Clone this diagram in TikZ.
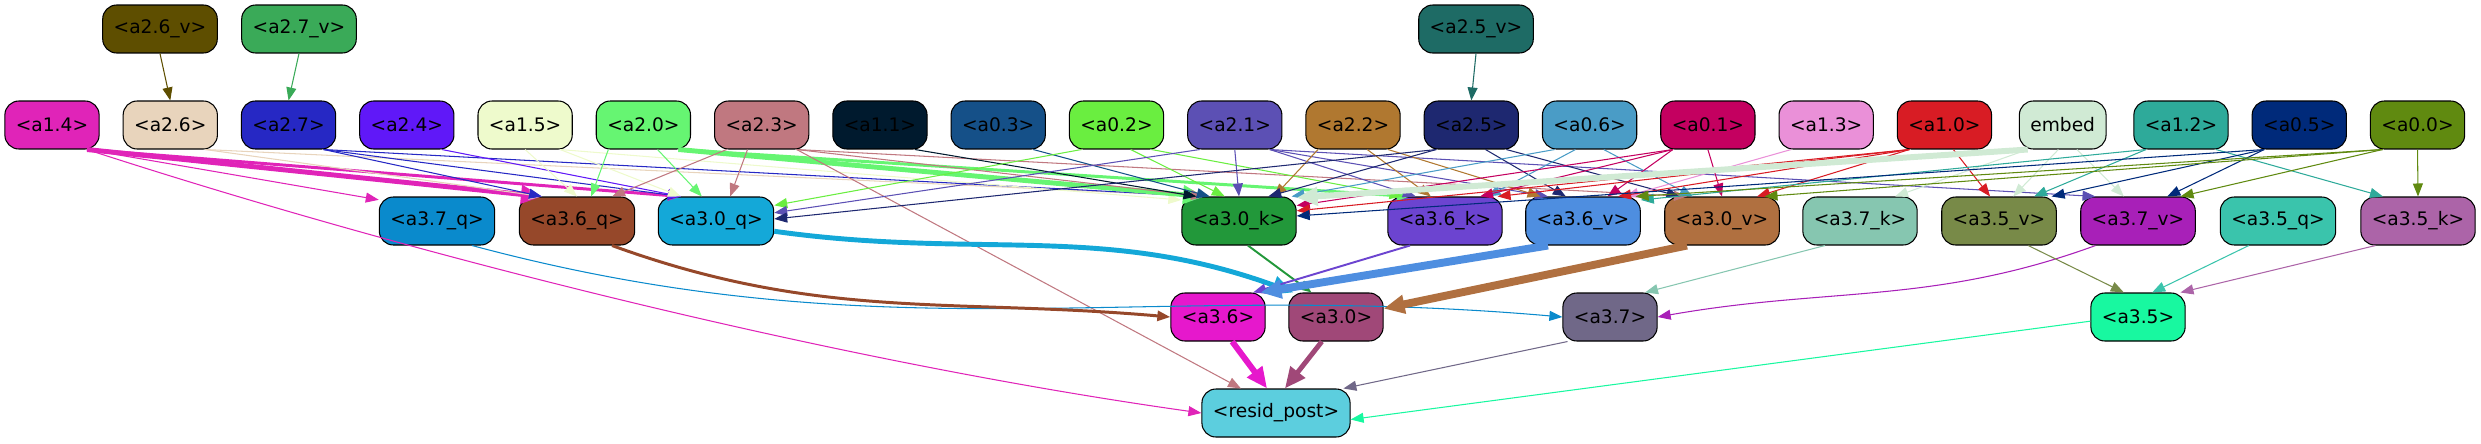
\documentclass[tikz,border=0pt]{standalone}
\usepackage{fontspec}
\setmainfont{DejaVu Sans}
\usepackage{tikz}
\usetikzlibrary{arrows.meta,positioning}

\definecolor{a26v}{HTML}{5E4E00}
\definecolor{a27v}{HTML}{3AAA58}
\definecolor{a25v}{HTML}{1E6B65}
\definecolor{a14}{HTML}{E024B8}
\definecolor{a26}{HTML}{E8D4BC}
\definecolor{a27}{HTML}{2628C4}
\definecolor{a24}{HTML}{6018F8}
\definecolor{a15}{HTML}{EEFACC}
\definecolor{a20}{HTML}{66F572}
\definecolor{a23}{HTML}{C07880}
\definecolor{a11}{HTML}{001A2E}
\definecolor{a03}{HTML}{155088}
\definecolor{a02}{HTML}{6AEE40}
\definecolor{a21}{HTML}{5C50B4}
\definecolor{a22}{HTML}{B07830}
\definecolor{a25}{HTML}{1E2870}
\definecolor{a06}{HTML}{4A9CC6}
\definecolor{a01}{HTML}{C40060}
\definecolor{a13}{HTML}{EA90D8}
\definecolor{a10}{HTML}{D81C24}
\definecolor{embed}{HTML}{D0EAD4}
\definecolor{a12}{HTML}{2EAA9A}
\definecolor{a05}{HTML}{002A7A}
\definecolor{a00}{HTML}{608A10}
\definecolor{a37q}{HTML}{0A8ACC}
\definecolor{a36q}{HTML}{96482A}
\definecolor{a30q}{HTML}{14A8D8}
\definecolor{a30k}{HTML}{22983A}
\definecolor{a36k}{HTML}{6C44D0}
\definecolor{a36v}{HTML}{4E8EE0}
\definecolor{a30v}{HTML}{B07040}
\definecolor{a37k}{HTML}{86C6B0}
\definecolor{a35v}{HTML}{788A48}
\definecolor{a37v}{HTML}{A820B8}
\definecolor{a35q}{HTML}{3AC4AC}
\definecolor{a35k}{HTML}{AC64A8}
\definecolor{a36}{HTML}{E618CC}
\definecolor{a30}{HTML}{A04878}
\definecolor{a37}{HTML}{706888}
\definecolor{a35}{HTML}{18F8A0}
\definecolor{resid}{HTML}{5CCEDE}

\tikzset{
  gnode/.style={draw=black, line width=0.6pt, rounded corners=0.28cm,
    minimum height=0.96cm, inner xsep=0.22cm, inner ysep=0pt,
    font=\fontsize{10.6}{12.7}\selectfont},
  gedge/.style={-{Triangle[length=0.26cm,width=0.2cm]}, line width=0.6pt},
  heavy/.style={-{Triangle[length=0.42cm,width=0.36cm]}},
}

\begin{document}
\begin{tikzpicture}[x=0.02cm, y=-0.02cm, node distance=2.366cm]
  \useasboundingbox (0,0) rectangle (2481,443);

  % Top row
  \node (a26v) [gnode, fill=a26v] at (160,29) {<a2.6\_v>};
  \node (a27v) [gnode, fill=a27v] at (299,29) {<a2.7\_v>};
  \node (a25v) [gnode, fill=a25v] at (1476,29) {<a2.5\_v>};

  % Inputs
  \node (a14) [gnode, fill=a14] at (52,125) {<a1.4>};
  \node (a26) [gnode, fill=a26, right of=a14] {<a2.6>};
  \node (a27) [gnode, fill=a27, right of=a26] {<a2.7>};
  \node (a24) [gnode, fill=a24, right of=a27] {<a2.4>};
  \node (a15) [gnode, fill=a15, right of=a24] {<a1.5>};
  \node (a20) [gnode, fill=a20, right of=a15] {<a2.0>};
  \node (a23) [gnode, fill=a23, right of=a20] {<a2.3>};
  \node (a11) [gnode, fill=a11, right of=a23] {<a1.1>};
  \node (a03) [gnode, fill=a03, right of=a11] {<a0.3>};
  \node (a02) [gnode, fill=a02, right of=a03] {<a0.2>};
  \node (a21) [gnode, fill=a21, right of=a02] {<a2.1>};
  \node (a22) [gnode, fill=a22, right of=a21] {<a2.2>};
  \node (a25) [gnode, fill=a25, right of=a22] {<a2.5>};
  \node (a06) [gnode, fill=a06, right of=a25] {<a0.6>};
  \node (a01) [gnode, fill=a01, right of=a06] {<a0.1>};
  \node (a13) [gnode, fill=a13, right of=a01] {<a1.3>};
  \node (a10) [gnode, fill=a10, right of=a13] {<a1.0>};
  \node (embed) [gnode, fill=embed, right of=a10] {embed};
  \node (a12) [gnode, fill=a12, right of=embed] {<a1.2>};
  \node (a05) [gnode, fill=a05, right of=a12] {<a0.5>};
  \node (a00) [gnode, fill=a00, right of=a05] {<a0.0>};

  % q, k, v
  \node (a37q) [gnode, fill=a37q] at (437,221) {<a3.7\_q>};
  \node (a36q) [gnode, fill=a36q] at (577,221) {<a3.6\_q>};
  \node (a30q) [gnode, fill=a30q] at (716,221) {<a3.0\_q>};
  \node (a30k) [gnode, fill=a30k] at (1239,221) {<a3.0\_k>};
  \node (a36k) [gnode, fill=a36k] at (1445,221) {<a3.6\_k>};
  \node (a36v) [gnode, fill=a36v] at (1583,221) {<a3.6\_v>};
  \node (a30v) [gnode, fill=a30v] at (1722,221) {<a3.0\_v>};
  \node (a37k) [gnode, fill=a37k] at (1860,221) {<a3.7\_k>};
  \node (a35v) [gnode, fill=a35v] at (1999,221) {<a3.5\_v>};
  \node (a37v) [gnode, fill=a37v] at (2138,221) {<a3.7\_v>};
  \node (a35q) [gnode, fill=a35q] at (2278,221) {<a3.5\_q>};
  \node (a35k) [gnode, fill=a35k] at (2418,221) {<a3.5\_k>};

  % Heads and output
  \node (a36) [gnode, fill=a36] at (1218,317) {<a3.6>};
  \node (a30) [gnode, fill=a30] at (1336,317) {<a3.0>};
  \node (a37) [gnode, fill=a37] at (1610,317) {<a3.7>};
  \node (a35) [gnode, fill=a35] at (2138,317) {<a3.5>};
  \node (resid) [gnode, fill=resid] at (1276,413) {<resid\_post>};

  % Arrows from the top row
  \draw[gedge, a26v] (a26v.south) -- (a26.north);
  \draw[gedge, a27v] (a27v.south) -- (a27.north);
  \draw[gedge, a25v] (a25v.south) -- (a25.north);

  % Arrows into q, k, v
  \draw[gedge, a14, line width=2.8pt, heavy] (a14.-35) -- (a36q.145);
  \draw[gedge, a14, line width=1.7pt] (a14.-35) -- (a30q.145);
  \draw[gedge, a14] (a14.-35) -- (a37q.160);
  \draw[gedge, a14] (a14.-35) to[out=-18, in=172, looseness=0.8] (resid.west);
  \draw[gedge, a26] (a26.-35) -- (a36q.145);
  \draw[gedge, a26] (a26.-35) -- (a30k.145);
  \draw[gedge, a27] (a27.-35) -- (a36q.145);
  \draw[gedge, a27] (a27.-35) -- (a30q.145);
  \draw[gedge, a27] (a27.-35) -- (a30k.145);
  \draw[gedge, a24] (a24.-35) -- (a30q.145);
  \draw[gedge, a15] (a15.south) -- (a36q.north);
  \draw[gedge, a15] (a15.-35) -- (a30q.145);
  \draw[gedge, a15] (a15.-35) -- (a30k.160);
  \draw[gedge, a20] (a20.-145) -- (a36q.60);
  \draw[gedge, a20] (a20.-60) -- (a30q.120);
  \draw[gedge, a20, line width=2.8pt, heavy] (a20.-35) -- (a30k.145);
  \draw[gedge, a20, line width=1.7pt] (a20.-35) -- (a36k.145);
  \draw[gedge, a23] (a23.-145) -- (a36q.35);
  \draw[gedge, a23] (a23.-120) -- (a30q.60);
  \draw[gedge, a23] (a23.-35) -- (resid.145);
  \draw[gedge, a23] (a23.-35) -- (a30k.145);
  \draw[gedge, a23] (a23.-35) -- (a30v.145);
  \draw[gedge, a11] (a11.-35) -- (a30k.150);
  \draw[gedge, a03] (a03.-35) -- (a30k.140);
  \draw[gedge, a02] (a02.-145) -- (a30q.15);
  \draw[gedge, a02] (a02.-60) -- (a30k.120);
  \draw[gedge, a02] (a02.-35) -- (a36k.150);
  \draw[gedge, a21] (a21.south) -- (a30k.north);
  \draw[gedge, a21] (a21.-145) -- (a30q.8);
  \draw[gedge, a21] (a21.-35) -- (a36k.140);
  \draw[gedge, a21] (a21.-35) -- (a36v.145);
  \draw[gedge, a21] (a21.-35) -- (a37v.150);
  \draw[gedge, a22] (a22.-145) -- (a30k.35);
  \draw[gedge, a22] (a22.-60) -- (a36k.120);
  \draw[gedge, a22] (a22.-35) -- (a36v.150);
  \draw[gedge, a25] (a25.-145) -- (a30k.40);
  \draw[gedge, a25] (a25.-145) -- (a30q.2);
  \draw[gedge, a25] (a25.-60) -- (a36v.125);
  \draw[gedge, a25] (a25.-35) -- (a30v.150);
  \draw[gedge, a06] (a06.-145) -- (a30k.25);
  \draw[gedge, a06] (a06.-120) -- (a36k.30);
  \draw[gedge, a06] (a06.-60) -- (a30v.140);
  \draw[gedge, a01] (a01.-145) -- (a30k.15);
  \draw[gedge, a01] (a01.-145) -- (a36k.35);
  \draw[gedge, a01] (a01.-145) -- (a36v.45);
  \draw[gedge, a01] (a01.south) -- (a30v.north);
  \draw[gedge, a13] (a13.-145) -- (a36v.30);
  \draw[gedge, a10] (a10.-145) -- (a30k.10);
  \draw[gedge, a10] (a10.-145) -- (a36k.25);
  \draw[gedge, a10] (a10.-145) -- (a36v.35);
  \draw[gedge, a10] (a10.-145) -- (a30v.35);
  \draw[gedge, a10] (a10.-70) -- (a35v.110);
  \draw[gedge, embed, line width=3.4pt, heavy] (embed.-145) -- (a30k.22);
  \draw[gedge, embed] (embed.-145) -- (a37k.35);
  \draw[gedge, embed] (embed.-100) -- (a35v.60);
  \draw[gedge, embed] (embed.-60) -- (a37v.120);
  \draw[gedge, a12] (a12.-145) -- (a35v.35);
  \draw[gedge, a12] (a12.-145) -- (a36v.20);
  \draw[gedge, a12] (a12.-35) -- (a35k.145);
  \draw[gedge, a05] (a05.-145) -- (a37v.40);
  \draw[gedge, a05] (a05.-145) -- (a35v.25);
  \draw[gedge, a05] (a05.-145) -- (a30k.5);
  \draw[gedge, a00] (a00.south) -- (a35k.north);
  \draw[gedge, a00] (a00.-145) -- (a37v.30);
  \draw[gedge, a00] (a00.-145) -- (a30v.30);
  \draw[gedge, a00] (a00.-145) -- (a36v.25);

  % Arrows into the heads
  \draw[gedge, a37q] (a37q.-35) to[out=-15, in=175] (a37.west);
  \draw[gedge, a36q, line width=1.7pt] (a36q.-35) to[out=-20, in=175] (a36.west);
  \draw[gedge, a30q, line width=2.8pt, heavy] (a30q.-10) to[out=-8, in=160] (a30.150);
  \draw[gedge, a30k, line width=1.1pt] (a30k.-70) -- (a30.135);
  \draw[gedge, a36k, line width=1.1pt] (a36k.-145) -- (a36.35);
  \draw[gedge, a36v, line width=4.5pt, heavy] (a36v.-145) -- (a36.30);
  \draw[gedge, a30v, line width=4.5pt, heavy] (a30v.-145) -- (a30.10);
  \draw[gedge, a37k] (a37k.-145) -- (a37.35);
  \draw[gedge, a37v] (a37v.-150) to[out=-160, in=10] (a37.east);
  \draw[gedge, a35v] (a35v.-40) -- (a35.120);
  \draw[gedge, a35q] (a35q.-140) -- (a35.60);
  \draw[gedge, a35k] (a35k.-150) -- (a35.30);

  % Into resid_post
  \draw[gedge, a36, line width=3.4pt, heavy] (a36.-60) -- (resid.110);
  \draw[gedge, a30, line width=2.8pt, heavy] (a30.-120) -- (resid.70);
  \draw[gedge, a37] (a37.-150) -- (resid.20);
  \draw[gedge, a35] (a35.185) -- (resid.-5);
\end{tikzpicture}
\end{document}
